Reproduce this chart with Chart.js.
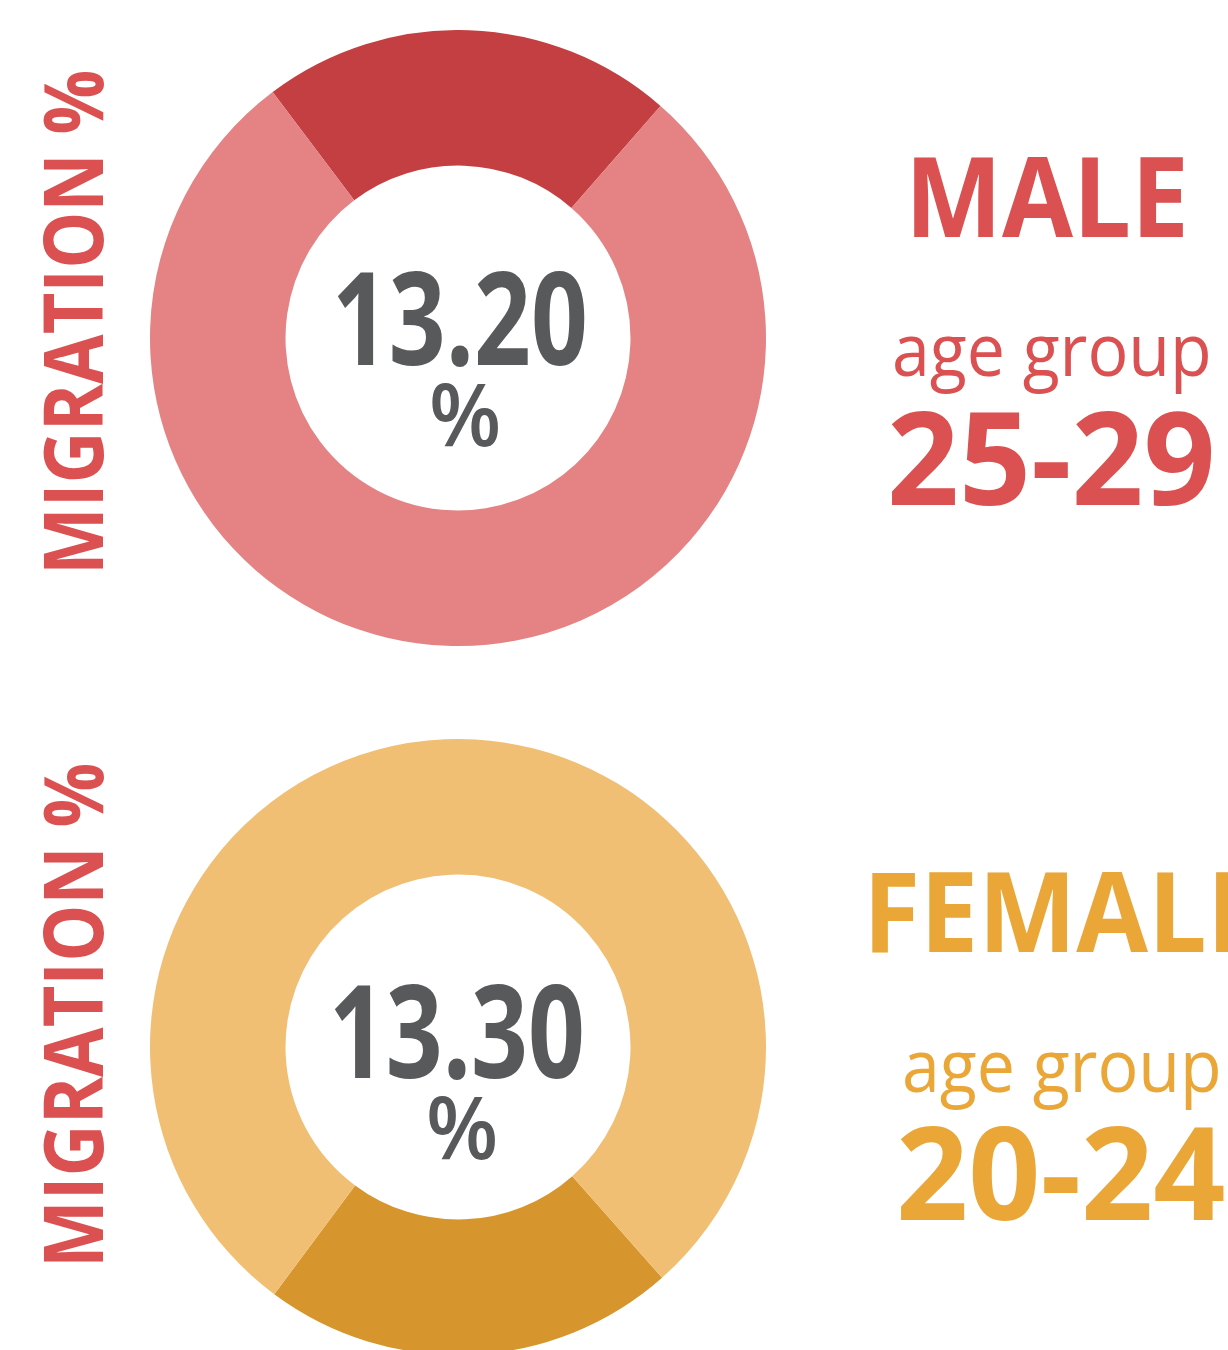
<!DOCTYPE html>
<html>
<head>
<meta charset="utf-8">
<title>Migration % by age group</title>
<script src="https://cdn.jsdelivr.net/npm/chart.js@4"></script>
<style>
    html, body { margin: 0; padding: 0; background: #fff; }
    body { width: 1228px; height: 1350px; position: relative; overflow: hidden; font-family: "Open Sans", Lato, sans-serif; }
    canvas { position: absolute; }
    .lbl { position: absolute; white-space: nowrap; line-height: 1; transform-origin: 0 0; }
    .lbl i { display: inline-block; width: 0; height: 0; }
</style>
</head>
<body>
<canvas id="male-chart" width="616" height="616" style="left:150px;top:30px"></canvas>
<canvas id="female-chart" width="616" height="616" style="left:150px;top:739px"></canvas>

<script>
// data
const genders = ['MALE', 'FEMALE'];
const ageGroups = ['25-29', '20-24'];
const migrationPct = ['13.20', '13.30'];
const sliceLabels = ['migrants', 'others'];
const maleSlices = [21.7, 78.3];
const femaleSlices = [21.7, 78.3];

const red = '#db5050';
const orange = '#eba638';
const grey = '#58595b';

function makeDonut(canvasId, values, colors, rotation) {
    return new Chart(document.getElementById(canvasId), {
        type: 'doughnut',
        data: {
            labels: sliceLabels,
            datasets: [{
                data: values,
                backgroundColor: colors,
                borderWidth: 0,
                hoverOffset: 0,
                offset: 0
            }]
        },
        options: {
            responsive: false,
            animation: false,
            events: [],
            cutout: '56%',
            rotation: rotation,
            layout: { padding: 0 },
            plugins: { legend: { display: false }, tooltip: { enabled: false } }
        }
    });
}

makeDonut('male-chart', maleSlices, ['#c43f41', '#e58283'], -37);
makeDonut('female-chart', femaleSlices, ['#d6952d', '#f1bf73'], 138.5);

// text labels: x = left of text, y = baseline, w = width of text
const labels = [
    { text: 'MIGRATION %', x: 103, y: 575, w: 505, size: 82, weight: 700, color: red, vertical: true },
    { text: 'MIGRATION %', x: 103, y: 1268, w: 505, size: 82, weight: 700, color: red, vertical: true },
    { text: migrationPct[0], x: 332, y: 365, w: 256, size: 129, weight: 700, color: grey },
    { text: '%', x: 429, y: 446, w: 72, size: 86, weight: 600, color: grey },
    { text: migrationPct[1], x: 329, y: 1078, w: 256, size: 129, weight: 700, color: grey },
    { text: '%', x: 426, y: 1159, w: 72, size: 86, weight: 600, color: grey },
    { text: genders[0], x: 905, y: 237, w: 284, size: 112, weight: 700, color: red },
    { text: 'age group', x: 892, y: 376, w: 320, size: 74, weight: 400, color: red },
    { text: ageGroups[0], x: 887, y: 505, w: 329, size: 129, weight: 700, color: red },
    { text: genders[1], x: 863, y: 952, w: 402, size: 112, weight: 700, color: orange },
    { text: 'age group', x: 902, y: 1092, w: 320, size: 74, weight: 400, color: orange },
    { text: ageGroups[1], x: 896, y: 1220, w: 330, size: 129, weight: 700, color: orange }
];

function placeLabels() {
    labels.forEach(l => {
        const el = document.createElement('div');
        el.className = 'lbl';
        el.style.fontSize = l.size + 'px';
        el.style.fontWeight = l.weight;
        el.style.color = l.color;
        el.textContent = l.text;
        const mark = document.createElement('i');
        el.appendChild(mark);
        document.body.appendChild(el);

        const base = mark.offsetTop;
        const sx = l.w / el.offsetWidth;
        if (l.vertical) {
            el.style.left = (l.x - base) + 'px';
            el.style.top = l.y + 'px';
            el.style.transform = `rotate(-90deg) scaleX(${sx})`;
        } else {
            el.style.left = l.x + 'px';
            el.style.top = (l.y - base) + 'px';
            el.style.transform = `scaleX(${sx})`;
        }
    });
}

document.fonts.ready.then(placeLabels);
</script>
</body>
</html>
